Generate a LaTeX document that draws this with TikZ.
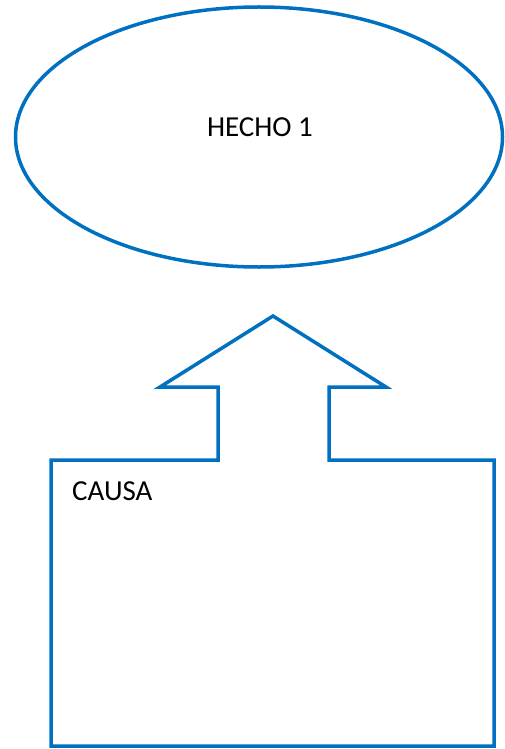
\documentclass[tikz,border=0pt]{standalone}
\usepackage{fontspec}
\setmainfont{Carlito}
\usetikzlibrary{shapes.geometric}
\definecolor{officeblue}{RGB}{0,112,192}
\tikzset{
  outline/.style={draw=officeblue, line width=3.5pt, line join=miter},
  lbl/.style={font=\fontsize{29}{34}\selectfont, text=black, inner sep=0pt}
}
\begin{document}
\begin{tikzpicture}[x=1pt,y=-1pt]
\useasboundingbox (0,0) rectangle (504,749);
\node[outline, ellipse, minimum width=487pt, minimum height=260pt, inner sep=0pt] (hecho) at (259,137) {};
\node[lbl] (hechotxt) at (260,127) {HECHO 1};
\draw[outline] (273,316) -- (160,387) -- (218,387) -- (218,460) -- (51,460) -- (51,746) -- (494,746) -- (494,460) -- (329,460) -- (329,387) -- (386,387) -- cycle;
\node[lbl, anchor=west] (causa) at (72,491) {CAUSA};
\end{tikzpicture}
\end{document}
